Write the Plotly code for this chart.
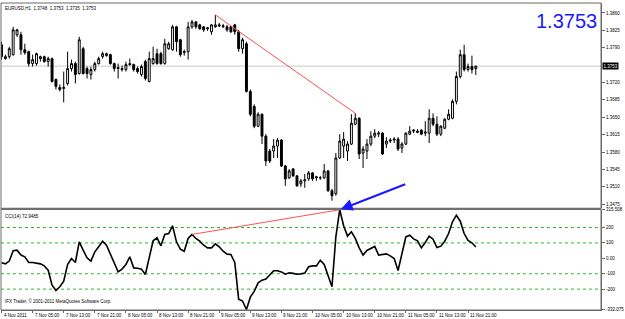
import plotly.graph_objects as go

# ---------------- data (EURUSD H1, 4 Nov 21:00 .. 11 Nov 23:00) ----------------
bars = list(range(123))
open_ = [1.3796,1.3768,1.3772,1.3776,1.3816,1.3816,1.3786,1.3782,1.3758,1.3758,
         1.3768,1.3772,1.3762,1.3768,1.3726,1.3710,1.3708,1.3718,1.3748,1.3758,
         1.3738,1.3788,1.3748,1.3736,1.3746,1.3758,1.3772,1.3774,1.3776,1.3758,
         1.3748,1.3748,1.3746,1.3758,1.3756,1.3748,1.3736,1.3762,1.3722,1.3758,
         1.3778,1.3778,1.3758,1.3788,1.3786,1.3832,1.3806,1.3780,1.3782,1.3832,
         1.3842,1.3836,1.3832,1.3828,1.3822,1.3832,1.3836,1.3832,1.3832,1.3832,
         1.3836,1.3822,1.3788,1.3798,1.3702,1.3672,1.3632,1.3656,1.3612,1.3582,
         1.3582,1.3592,1.3604,1.3552,1.3528,1.3546,1.3532,1.3516,1.3522,1.3526,
         1.3538,1.3528,1.3528,1.3528,1.3542,1.3502,1.3496,1.3568,1.3592,1.3582,
         1.3596,1.3636,1.3648,1.3578,1.3582,1.3596,1.3612,1.3616,1.3618,1.3596,
         1.3602,1.3604,1.3606,1.3588,1.3596,1.3616,1.3622,1.3622,1.3624,1.3618,
         1.3618,1.3648,1.3636,1.3616,1.3628,1.3646,1.3648,1.3682,1.3732,1.3776,
         1.3746,1.3752,1.3748]
high = [1.3802,1.3776,1.3792,1.3832,1.3828,1.3822,1.3798,1.3784,1.3776,1.3780,
        1.3774,1.3774,1.3772,1.3770,1.3728,1.3716,1.3742,1.3782,1.3766,1.3762,
        1.3812,1.3792,1.3752,1.3752,1.3762,1.3772,1.3782,1.3780,1.3778,1.3760,
        1.3758,1.3754,1.3762,1.3768,1.3758,1.3752,1.3756,1.3766,1.3782,1.3792,
        1.3788,1.3782,1.3808,1.3802,1.3836,1.3834,1.3808,1.3786,1.3842,1.3846,
        1.3844,1.3838,1.3834,1.3832,1.3838,1.3856,1.3840,1.3838,1.3836,1.3834,
        1.3838,1.3826,1.3810,1.3802,1.3706,1.3676,1.3660,1.3658,1.3616,1.3586,
        1.3606,1.3608,1.3606,1.3554,1.3546,1.3548,1.3534,1.3526,1.3536,1.3542,
        1.3540,1.3532,1.3532,1.3556,1.3544,1.3506,1.3578,1.3616,1.3620,1.3602,
        1.3656,1.3658,1.3650,1.3592,1.3606,1.3622,1.3626,1.3622,1.3620,1.3610,
        1.3608,1.3610,1.3610,1.3600,1.3620,1.3632,1.3626,1.3626,1.3626,1.3642,
        1.3666,1.3658,1.3652,1.3634,1.3648,1.3666,1.3686,1.3742,1.3786,1.3796,
        1.3758,1.3774,1.3753]
low = [1.3766,1.3766,1.3768,1.3774,1.3812,1.3776,1.3776,1.3752,1.3752,1.3754,
       1.3762,1.3760,1.3752,1.3720,1.3706,1.3702,1.3680,1.3714,1.3742,1.3718,
       1.3736,1.3736,1.3728,1.3726,1.3742,1.3756,1.3768,1.3772,1.3756,1.3742,
       1.3728,1.3742,1.3742,1.3754,1.3742,1.3738,1.3732,1.3724,1.3720,1.3756,
       1.3756,1.3756,1.3756,1.3786,1.3784,1.3782,1.3772,1.3774,1.3766,1.3828,
       1.3828,1.3826,1.3822,1.3824,1.3816,1.3830,1.3832,1.3830,1.3822,1.3820,
       1.3816,1.3782,1.3778,1.3700,1.3652,1.3628,1.3630,1.3596,1.3552,1.3558,
       1.3568,1.3568,1.3550,1.3512,1.3526,1.3530,1.3510,1.3510,1.3508,1.3522,
       1.3522,1.3522,1.3524,1.3526,1.3500,1.3482,1.3492,1.3566,1.3568,1.3562,
       1.3594,1.3634,1.3566,1.3548,1.3566,1.3592,1.3608,1.3610,1.3574,1.3588,
       1.3598,1.3598,1.3582,1.3578,1.3594,1.3614,1.3618,1.3618,1.3614,1.3612,
       1.3598,1.3632,1.3612,1.3612,1.3626,1.3644,1.3646,1.3676,1.3728,1.3742,
       1.3742,1.3738,1.3735]
close = [1.3772,1.3772,1.3788,1.3826,1.3826,1.3786,1.3780,1.3758,1.3766,1.3778,
         1.3772,1.3762,1.3768,1.3722,1.3712,1.3706,1.3710,1.3748,1.3758,1.3736,
         1.3806,1.3738,1.3738,1.3746,1.3758,1.3768,1.3778,1.3778,1.3758,1.3748,
         1.3750,1.3746,1.3756,1.3756,1.3746,1.3742,1.3752,1.3728,1.3768,1.3768,
         1.3758,1.3758,1.3798,1.3798,1.3832,1.3802,1.3776,1.3782,1.3832,1.3842,
         1.3832,1.3828,1.3826,1.3830,1.3836,1.3836,1.3834,1.3834,1.3826,1.3822,
         1.3822,1.3788,1.3806,1.3702,1.3656,1.3632,1.3656,1.3612,1.3562,1.3562,
         1.3592,1.3604,1.3552,1.3526,1.3542,1.3532,1.3512,1.3522,1.3524,1.3538,
         1.3526,1.3530,1.3528,1.3542,1.3502,1.3492,1.3568,1.3602,1.3606,1.3596,
         1.3638,1.3648,1.3576,1.3586,1.3596,1.3612,1.3618,1.3618,1.3576,1.3602,
         1.3604,1.3606,1.3586,1.3596,1.3618,1.3622,1.3624,1.3620,1.3616,1.3620,
         1.3648,1.3636,1.3616,1.3632,1.3646,1.3656,1.3682,1.3732,1.3776,1.3746,
         1.3752,1.3746,1.3753]
cci = [-29,-36,-18,49,53,21,10,-27,-27,-31,
       -36,-49,-77,-174,-209,-185,-148,-40,-1,-27,
       107,53,3,-18,42,75,111,85,31,-27,
       -88,-70,-40,10,-62,-64,-70,-105,-1,114,
       133,81,155,161,211,107,59,46,129,155,
       129,111,85,68,68,94,75,46,27,25,
       -27,-265,-278,-332.075,-252,-215,-159,-142,-135,-105,
       -81,-81,-88,-103,-94,-98,-103,-101,-96,-55,
       -49,-49,-12,-40,-116,-185,139,315.508,211,144,
       172,129,68,21,51,62,77,21,25,29,
       16,-1,-79,42,139,150,126,114,68,103,
       144,124,70,79,111,161,237,280,241,161,
       116,101,72.9485]

price_ticks = [1.3860, 1.3825, 1.3790, 1.3720, 1.3685, 1.3650, 1.3615, 1.3580, 1.3545, 1.3510, 1.3475]
cci_ticks = [315.508, 200, 100, 0, -100, -200, -332.075]
cci_tick_text = ["315.508", "200", "100", "0.00", "-100", "-200", "-332.075"]
cci_levels = [200, 100, -100, -200]
x_tick_bars = list(range(0, 121, 8))
x_tick_text = ["4 Nov 2011", "7 Nov 05:00", "7 Nov 13:00", "7 Nov 21:00", "8 Nov 05:00",
               "8 Nov 13:00", "8 Nov 21:00", "9 Nov 05:00", "9 Nov 13:00", "9 Nov 21:00",
               "10 Nov 05:00", "10 Nov 13:00", "10 Nov 21:00", "11 Nov 05:00",
               "11 Nov 13:00", "11 Nov 21:00"]
symbol = "EURUSD,H1"
last_price = close[-1]
price_line_bars = [55, 91]
cci_line_bars = [49, 87]

FONT = "Liberation Sans, Arial, sans-serif"
AX = "#6a6a6a"

fig = go.Figure()
fig.add_trace(go.Candlestick(
    x=bars, open=open_, high=high, low=low, close=close,
    increasing=dict(line=dict(color="black", width=1), fillcolor="white"),
    decreasing=dict(line=dict(color="black", width=1), fillcolor="black"),
    whiskerwidth=0, xaxis="x", yaxis="y", showlegend=False, hoverinfo="skip"))
fig.add_trace(go.Scatter(x=bars, y=cci, mode="lines", line=dict(color="black", width=1.6),
                         xaxis="x", yaxis="y2", showlegend=False, hoverinfo="skip"))

shapes = []
# bid line
shapes.append(dict(type="line", xref="paper", x0=0, x1=1, yref="y", y0=last_price, y1=last_price,
                   line=dict(color="#c8c8c8", width=1), layer="below"))
# CCI levels
for lv in cci_levels:
    shapes.append(dict(type="line", xref="paper", x0=0, x1=1, yref="y2", y0=lv, y1=lv,
                       line=dict(color="#2db82d", width=1, dash="dot"), layer="below"))
# divergence lines
shapes.append(dict(type="line", xref="x", yref="y",
                   x0=price_line_bars[0], y0=high[price_line_bars[0]],
                   x1=price_line_bars[1], y1=high[price_line_bars[1]],
                   line=dict(color="#ff5050", width=1)))
shapes.append(dict(type="line", xref="x", yref="y2",
                   x0=cci_line_bars[0], y0=cci[cci_line_bars[0]],
                   x1=cci_line_bars[1], y1=cci[cci_line_bars[1]],
                   line=dict(color="#ff5050", width=1)))
# frame + panel separator
shapes.append(dict(type="rect", xref="paper", yref="paper", x0=0, x1=1, y0=0, y1=1,
                   line=dict(color=AX, width=1)))
shapes.append(dict(type="rect", xref="paper", yref="paper", x0=0, x1=1, y0=0.3255, y1=0.3333,
                   fillcolor="#707070", line=dict(width=0)))

annotations = []
annotations.append(dict(xref="paper", yref="paper", x=0.003, y=0.997, xanchor="left", yanchor="top",
                        text=f"{symbol}  {open_[-1]:.4f}  {high[-1]:.4f}  {low[-1]:.4f}  {close[-1]:.4f}",
                        showarrow=False, font=dict(family=FONT, size=4.5, color="black")))
annotations.append(dict(xref="paper", yref="paper", x=0.997, y=0.985, xanchor="right", yanchor="top",
                        text=f"{last_price:.4f}", showarrow=False,
                        font=dict(family=FONT, size=20, color="#1a1aff")))
annotations.append(dict(xref="paper", x=1, xanchor="left", xshift=1, yref="y", y=last_price,
                        text=f"{last_price:.4f}", showarrow=False, bgcolor="black", borderpad=0.5,
                        font=dict(family=FONT, size=4.5, color="white")))
annotations.append(dict(xref="paper", yref="paper", x=0.003, y=0.318, xanchor="left", yanchor="top",
                        text=f"CCI(14) {cci[-1]:.4f}", showarrow=False,
                        font=dict(family=FONT, size=4.5, color="black")))
annotations.append(dict(xref="paper", yref="paper", x=0.003, y=0.012, xanchor="left", yanchor="bottom",
                        text="IFX Trader, © 2001-2011 MetaQuotes Software Corp.", showarrow=False,
                        font=dict(family=FONT, size=4.5, color="black")))
for b, t in zip(x_tick_bars, x_tick_text):
    annotations.append(dict(xref="x", yref="paper", x=b, y=0, xanchor="left", yanchor="top",
                            xshift=0, yshift=-1, text=t, showarrow=False,
                            font=dict(family=FONT, size=4.5, color="black")))
# blue arrow
annotations.append(dict(xref="x", yref="y2", x=cci_line_bars[1], y=cci[cci_line_bars[1]],
                        ax=67, ay=-26, axref="pixel", ayref="pixel", text="", showarrow=True,
                        arrowhead=2, arrowsize=1.2, arrowwidth=2, arrowcolor="#1a1aff", standoff=1))

fig.update_layout(
    width=625, height=319,
    margin=dict(l=1, r=18, t=1, b=9),
    paper_bgcolor="white", plot_bgcolor="white",
    showlegend=False,
    xaxis=dict(range=[-0.13, 154.2], domain=[0, 1], anchor="y2", showgrid=False, zeroline=False,
               rangeslider=dict(visible=False), tickmode="array", tickvals=x_tick_bars,
               showticklabels=False, ticks="outside", ticklen=2, tickcolor=AX,
               showline=True, linecolor=AX, linewidth=1),
    yaxis=dict(domain=[0.3333, 1], range=[1.3468, 1.3880], side="right", showgrid=False,
               zeroline=False, tickmode="array", tickvals=price_ticks,
               ticktext=[f"{v:.4f}" for v in price_ticks],
               ticks="outside", ticklen=3, tickcolor=AX, showline=True, linecolor=AX,
               tickfont=dict(family=FONT, size=4.5, color="black")),
    yaxis2=dict(domain=[0, 0.3269], range=[-335.5, 316], side="right", showgrid=False,
                zeroline=False, tickmode="array", tickvals=cci_ticks, ticktext=cci_tick_text,
                ticks="outside", ticklen=3, tickcolor=AX, showline=True, linecolor=AX,
                tickfont=dict(family=FONT, size=4.5, color="black")),
    shapes=shapes, annotations=annotations,
)

fig.write_html("out.html")
